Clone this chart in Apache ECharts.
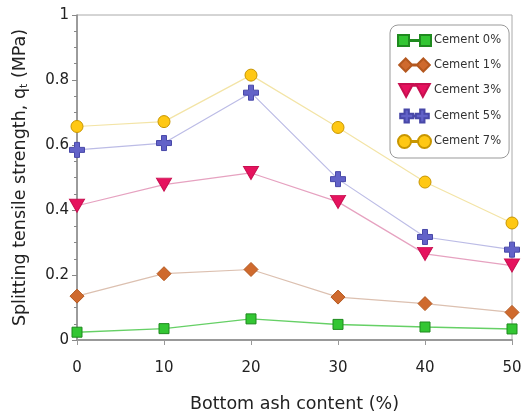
<!DOCTYPE html>
<html>
<head>
<meta charset="utf-8">
<script src="https://cdn.jsdelivr.net/npm/echarts@6/dist/echarts.min.js"></script>
<style>html,body{margin:0;padding:0;background:#fff;}#c{width:524px;height:414px;}</style>
</head>
<body>
<div id="c"></div>
<script>
const ashContent = [0, 10, 20, 30, 40, 50];
const seriesNames = ['Cement 0%', 'Cement 1%', 'Cement 3%', 'Cement 5%', 'Cement 7%'];
const cement0 = [0.024, 0.035, 0.065, 0.048, 0.040, 0.034];
const cement1 = [0.135, 0.204, 0.217, 0.132, 0.112, 0.085];
const cement3 = [0.413, 0.478, 0.514, 0.425, 0.265, 0.229];
const cement5 = [0.585, 0.606, 0.761, 0.495, 0.317, 0.278];
const cement7 = [0.657, 0.672, 0.815, 0.654, 0.486, 0.360];
const yTicks = [0, 0.2, 0.4, 0.6, 0.8, 1];
const xTicks = [0, 10, 20, 30, 40, 50];

const FONT = 'DejaVu Sans';
const crossPath = 'path://M5,0h5v5h5v5h-5v5h-5v-5h-5v-5h5z';

function pairs(vals) { return ashContent.map((x, i) => [x, vals[i]]); }

const styles = [
  { data: cement0, symbol: 'rect', size: 10, color: '#33c633', border: '#1f8a1f', line: '#66d066', lw: 1.5,
    icon: 'path://M0,0h11v11h-11z M22,0h11v11h-11z M11,5h11v1h-11z' },
  { data: cement1, symbol: 'diamond', size: 14, color: '#cf6a2e', border: '#b4581f', line: '#dcc0b0', lw: 1.2,
    icon: 'path://M0,7L7,0L14,7L7,14Z M19,7L26,0L33,7L26,14Z M14,6.5h5v1h-5z' },
  { data: cement3, symbol: 'triangle', size: [15, 13], rotate: 180, color: '#e6125e', border: '#c80f50', line: '#e6a2c0', lw: 1.2,
    icon: 'path://M0,0H15L7.5,14Z M18,0H33L25.5,14Z M15,1h3v1h-3z' },
  { data: cement5, symbol: crossPath, size: 15, color: '#6262c8', border: '#4848a8', line: '#bcbce6', lw: 1.2,
    icon: 'path://M5,0h5v5h5v5h-5v5h-5v-5h-5v-5h5z M23,0h5v5h5v5h-5v5h-5v-5h-5v-5h5z M15,7h3v1h-3z' },
  { data: cement7, symbol: 'circle', size: 12, color: '#ffc814', border: '#c89600', line: '#f3e4a6', lw: 1.2,
    icon: 'path://M0,6.5A6.5,6.5 0 1,1 13,6.5A6.5,6.5 0 1,1 0,6.5Z M20,6.5A6.5,6.5 0 1,1 33,6.5A6.5,6.5 0 1,1 20,6.5Z M13,6h7v1h-7z' }
];

const chart = echarts.init(document.getElementById('c'), null, { renderer: 'canvas' });
chart.setOption({
  animation: false,
  backgroundColor: '#fff',
  textStyle: { fontFamily: FONT },
  grid: { left: 77, right: 12, top: 15, bottom: 74, containLabel: false, outerBoundsMode: 'none',
    show: true, borderColor: '#aaa', borderWidth: 1 },
  legend: {
    orient: 'vertical',
    left: 390, top: 25,
    padding: [9, 8, 9, 7],
    width: 117,
    itemWidth: 33, itemHeight: 13, itemGap: 10.5,
    borderColor: '#999', borderWidth: 1, borderRadius: 8,
    backgroundColor: '#fff',
    textStyle: { fontFamily: FONT, fontSize: 11.5, color: '#333', padding: [0, 0, 0, -2] },
    data: seriesNames.map((n, i) => ({ name: n, icon: styles[i].icon }))
  },
  xAxis: {
    type: 'value', min: 0, max: 50, interval: 10,
    name: 'Bottom ash content (%)', nameLocation: 'middle', nameGap: 55,
    nameTextStyle: { fontFamily: FONT, fontSize: 17.5, color: '#222' },
    axisLine: { show: true, lineStyle: { color: '#999', width: 2 } },
    axisTick: { show: true, inside: false, length: 5, lineStyle: { color: '#999' } },
    axisLabel: { fontFamily: FONT, fontSize: 15, color: '#222', margin: 21,
      formatter: v => (xTicks.indexOf(v) >= 0 ? String(v) : '') },
    splitLine: { show: false }
  },
  yAxis: {
    type: 'value', min: 0, max: 1, interval: 0.2,
    name: 'Splitting tensile strength, q{sub|t} (MPa)', nameLocation: 'middle', nameRotate: 90, nameGap: 47,
    nameTextStyle: { fontFamily: FONT, fontSize: 17.5, color: '#222',
      rich: { sub: { fontFamily: FONT, fontSize: 11, color: '#222', verticalAlign: 'bottom', padding: [9, 0, 0, 0] } } },
    axisLine: { show: true, lineStyle: { color: '#888', width: 1.5 } },
    axisTick: { show: true, inside: false, length: 5, lineStyle: { color: '#888' } },
    minorTick: { show: true, splitNumber: 4, length: 3, lineStyle: { color: '#888' } },
    axisLabel: { fontFamily: FONT, fontSize: 15, color: '#222', margin: 8,
      formatter: v => { const t = yTicks.find(k => Math.abs(k - v) < 1e-9); return t === undefined ? '' : String(t); } },
    splitLine: { show: false }
  },
  series: styles.map((s, i) => ({
    name: seriesNames[i],
    type: 'line',
    data: pairs(s.data),
    symbol: s.symbol,
    symbolSize: s.size,
    symbolRotate: s.rotate || 0,
    showAllSymbol: true,
    z: 2 + i,
    lineStyle: { color: s.line, width: s.lw },
    itemStyle: { color: s.color, borderColor: s.border, borderWidth: 1 }
  }))
});
</script>
</body>
</html>
